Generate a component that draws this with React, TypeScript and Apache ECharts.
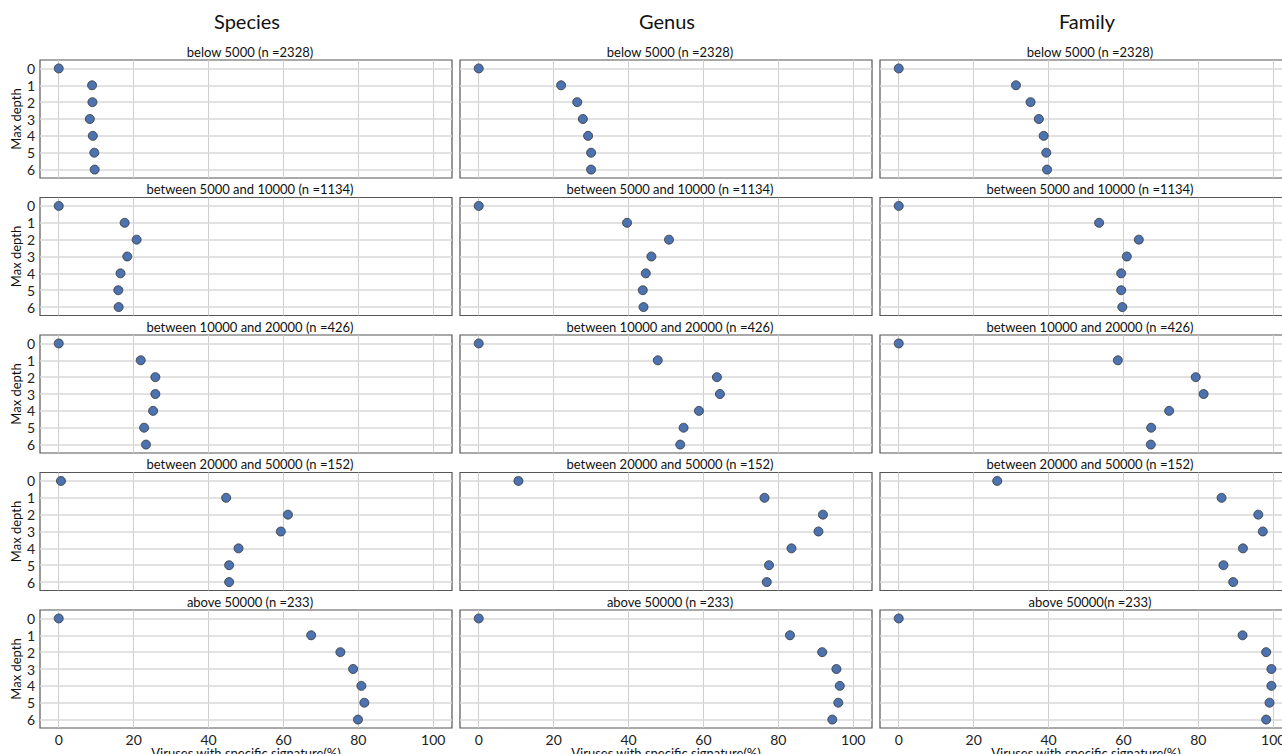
import React, { useEffect, useRef } from "react";
import * as echarts from "echarts";

const depths = ["0", "1", "2", "3", "4", "5", "6"];
const columnTitles = ["Species", "Genus", "Family"];
const xTicks = [0, 20, 40, 60, 80, 100];

const speciesTitles = [
  "below 5000 (n =2328)",
  "between 5000 and 10000 (n =1134)",
  "between 10000 and 20000 (n =426)",
  "between 20000 and 50000 (n =152)",
  "above 50000 (n =233)",
];
const genusTitles = [
  "below 5000 (n =2328)",
  "between 5000 and 10000 (n =1134)",
  "between 10000 and 20000 (n =426)",
  "between 20000 and 50000 (n =152)",
  "above 50000 (n =233)",
];
const familyTitles = [
  "below 5000 (n =2328)",
  "between 5000 and 10000 (n =1134)",
  "between 10000 and 20000 (n =426)",
  "between 20000 and 50000 (n =152)",
  "above 50000(n =233)",
];

// Species
const speciesBelow5k = [0, 8.9, 9.0, 8.3, 9.1, 9.5, 9.6];
const species5kTo10k = [0, 17.6, 20.8, 18.3, 16.5, 15.9, 16.0];
const species10kTo20k = [0, 21.9, 25.8, 25.8, 25.2, 22.8, 23.3];
const species20kTo50k = [0.6, 44.7, 61.2, 59.3, 48.0, 45.5, 45.5];
const speciesAbove50k = [0, 67.4, 75.2, 78.6, 80.8, 81.6, 79.9];
// Genus
const genusBelow5k = [0, 22.0, 26.3, 27.8, 29.2, 30.0, 30.0];
const genus5kTo10k = [0, 39.6, 50.8, 46.1, 44.6, 43.8, 44.0];
const genus10kTo20k = [0, 47.8, 63.6, 64.4, 58.8, 54.7, 53.8];
const genus20kTo50k = [10.6, 76.3, 91.9, 90.7, 83.5, 77.5, 76.9];
const genusAbove50k = [0, 83.1, 91.7, 95.5, 96.4, 96.0, 94.4];
// Family
const familyBelow5k = [0, 31.3, 35.2, 37.4, 38.7, 39.4, 39.6];
const family5kTo10k = [0, 53.5, 64.1, 60.9, 59.4, 59.4, 59.7];
const family10kTo20k = [0, 58.5, 79.3, 81.4, 72.2, 67.4, 67.3];
const family20kTo50k = [26.3, 86.2, 96.0, 97.2, 91.9, 86.7, 89.3];
const familyAbove50k = [0, 91.8, 98.1, 99.5, 99.5, 99.0, 98.1];

const columnsData = [
  [speciesBelow5k, species5kTo10k, species10kTo20k, species20kTo50k, speciesAbove50k],
  [genusBelow5k, genus5kTo10k, genus10kTo20k, genus20kTo50k, genusAbove50k],
  [familyBelow5k, family5kTo10k, family10kTo20k, family20kTo50k, familyAbove50k],
];
const columnsPanelTitles = [speciesTitles, genusTitles, familyTitles];

const FONT = "Lato, 'Open Sans', sans-serif";

export default function App() {
  const ref = useRef<HTMLDivElement>(null);

  useEffect(() => {
    if (!ref.current) return;
    const chart = echarts.init(ref.current, undefined, { renderer: "svg" });

    const GL = 40, GT = 60, GW = 412, GH = 118, CP = 420, RP = 137.5;
    const grids: any[] = [];
    const xAxes: any[] = [];
    const yAxes: any[] = [];
    const series: any[] = [];
    const titles: any[] = [];

    for (let c = 0; c < 3; c++) {
      titles.push({
        text: columnTitles[c],
        left: GL + CP * c + GW / 2 + 1,
        top: 11,
        textAlign: "center",
        padding: 0,
        textStyle: { fontSize: 20, fontWeight: "normal", color: "#111", fontFamily: FONT },
      });
    }

    for (let r = 0; r < 5; r++) {
      for (let c = 0; c < 3; c++) {
        const i = grids.length;
        const left = GL + CP * c;
        const top = GT + RP * r;
        grids.push({
          left,
          top,
          width: GW,
          height: GH,
          show: true,
          backgroundColor: "#ffffff",
          borderColor: "#555555",
          borderWidth: 1.2,
          containLabel: false,
          outerBoundsMode: "none",
        });
        titles.push({
          text: columnsPanelTitles[c][r],
          left: left + GW / 2 + 4,
          top: top - 15,
          textAlign: "center",
          padding: 0,
          textStyle: { fontSize: 13, fontWeight: "normal", color: "#111", fontFamily: FONT },
        });
        xAxes.push({
          type: "value",
          gridIndex: i,
          min: -5,
          max: 105,
          splitLine: { show: false },
          axisLine: { show: false },
          axisTick: { show: false },
          axisLabel: {
            show: r === 4,
            customValues: xTicks,
            fontSize: 14,
            color: "#222",
            margin: 4,
            fontFamily: FONT,
          },
          name: r === 4 ? "Viruses with specific signature(%)" : "",
          nameLocation: "middle",
          nameGap: 12,
          nameTextStyle: { fontSize: 13, color: "#111", fontFamily: FONT },
        });
        yAxes.push({
          type: "category",
          gridIndex: i,
          data: depths,
          inverse: true,
          boundaryGap: true,
          axisLine: { show: false },
          axisTick: { show: false },
          splitLine: { show: false },
          axisLabel: {
            show: c === 0,
            interval: 0,
            fontSize: 14,
            color: "#222",
            margin: 5,
            fontFamily: FONT,
          },
          name: c === 0 ? "Max depth" : "",
          nameLocation: "middle",
          nameGap: 17,
          nameTextStyle: { fontSize: 13, color: "#111", fontFamily: FONT },
        });
        series.push({
          type: "scatter",
          xAxisIndex: i,
          yAxisIndex: i,
          data: [],
          z: 1,
          silent: true,
          markLine: {
            silent: true,
            symbol: "none",
            z: 1,
            animation: false,
            label: { show: false },
            emphasis: { disabled: true },
            data: [
              ...xTicks.map((v) => ({ xAxis: v, lineStyle: { color: "#cfcfcf", width: 1, type: "solid" } })),
              ...depths.map((d) => ({ yAxis: d, lineStyle: { color: "#d9d9d9", width: 1.6, type: "solid" } })),
            ],
          },
        });
        const vals = columnsData[c][r];
        series.push({
          type: "scatter",
          xAxisIndex: i,
          yAxisIndex: i,
          z: 3,
          symbol: "circle",
          symbolSize: 9,
          itemStyle: { color: "#4c72b0", borderColor: "#333333", borderWidth: 0.8, opacity: 1 },
          data: vals.map((v, k) => [v, depths[k]]),
        });
      }
    }

    chart.setOption({
      animation: false,
      backgroundColor: "#ffffff",
      textStyle: { fontFamily: FONT },
      title: titles,
      grid: grids,
      xAxis: xAxes,
      yAxis: yAxes,
      series,
    });

    return () => chart.dispose();
  }, []);

  return (
    <div style={{ position: "fixed", left: 0, top: 0, width: 1282, height: 754, overflow: "hidden", background: "#fff" }}>
      <div ref={ref} style={{ width: 1282, height: 754 }} />
    </div>
  );
}
